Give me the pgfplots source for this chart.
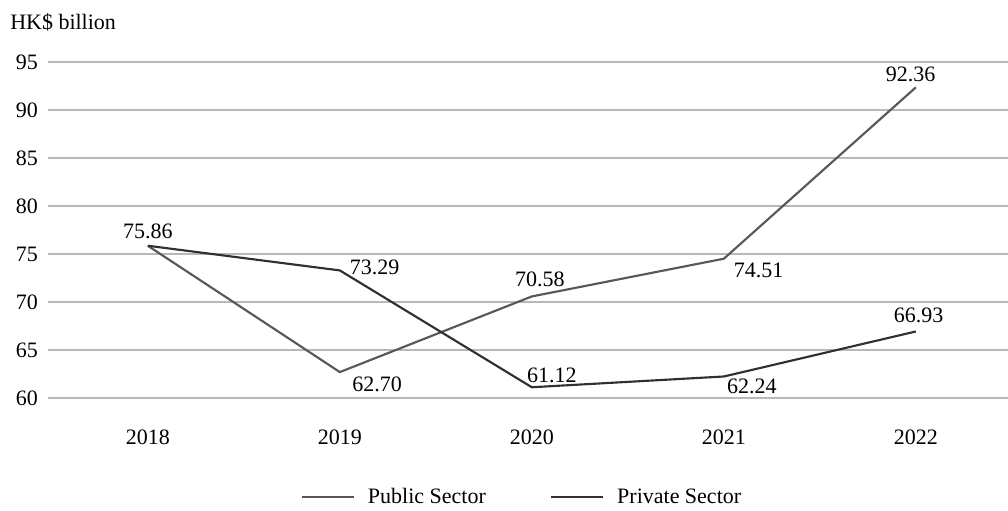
\documentclass[border=0pt]{standalone}
\usepackage{pgfplots}
\pgfplotsset{compat=1.18}
\usepackage{fontspec}
\setmainfont{Liberation Serif}
\definecolor{pubc}{HTML}{585858}
\definecolor{privc}{HTML}{303030}
\definecolor{gridc}{HTML}{B8B8B8}
\begin{document}
\begin{tikzpicture}
\useasboundingbox (-36pt,-84.75pt) rectangle (720pt,298.5pt);
\begin{axis}[
  at={(0,0)}, anchor=south west,
  scale only axis, width=720pt, height=252pt,
  xmin=2017.48, xmax=2022.48, ymin=60, ymax=95,
  xtick={2018,2019,2020,2021,2022},
  xticklabels={2018,2019,2020,2021,2022},
  ytick={60,65,70,75,80,85,90,95},
  axis line style={draw=none},
  major tick length=0pt,
  ymajorgrids, grid style={gridc, line width=1.1pt},
  tick label style={font=\fontsize{16.5}{19}\selectfont},
  /pgf/number format/assume math mode=true,
  yticklabel style={xshift=-4pt},
  xticklabel style={yshift=-20pt},
  legend columns=2,
  legend style={draw=none, fill=none, at={(rel axis cs:0.494,0)}, anchor=center, yshift=-74.5pt,
    font=\fontsize{16.5}{19}\selectfont,
    /tikz/every even column/.append style={column sep=46pt}},
  legend image code/.code={\draw[#1, line width=1.5pt] (0pt,0pt) -- (39pt,0pt);},
  clip=false,
]
\addplot[pubc, line width=1.6pt] coordinates {(2018,75.86) (2019,62.70) (2020,70.58) (2021,74.51) (2022,92.36)};
\addlegendentry{\hspace{8pt}Public Sector}
\addplot[privc, line width=1.6pt] coordinates {(2018,75.86) (2019,73.29) (2020,61.12) (2021,62.24) (2022,66.93)};
\addlegendentry{\hspace{8pt}Private Sector}
\begin{scope}[every node/.style={font=\fontsize{16.5}{19}\selectfont, inner sep=0pt}]
\node at (axis cs:2018,75.86) [yshift=10.5pt] {75.86};
\node at (axis cs:2019,73.29) [xshift=26pt, yshift=2pt] {73.29};
\node at (axis cs:2019,62.70) [xshift=28pt, yshift=-9.5pt] {62.70};
\node at (axis cs:2020,70.58) [xshift=6pt, yshift=13pt] {70.58};
\node at (axis cs:2020,61.12) [xshift=15pt, yshift=9pt] {61.12};
\node at (axis cs:2021,74.51) [xshift=26pt, yshift=-9pt] {74.51};
\node at (axis cs:2021,62.24) [xshift=21pt, yshift=-7.5pt] {62.24};
\node at (axis cs:2022,66.93) [xshift=2pt, yshift=12pt] {66.93};
\node at (axis cs:2022,92.36) [xshift=-4pt, yshift=10pt] {92.36};
\end{scope}
\node[anchor=west, inner sep=0pt, font=\fontsize{16.5}{19}\selectfont] at (rel axis cs:0,1) [xshift=-28.5pt, yshift=30pt] {HK\$ billion};
\end{axis}
\end{tikzpicture}
\end{document}
